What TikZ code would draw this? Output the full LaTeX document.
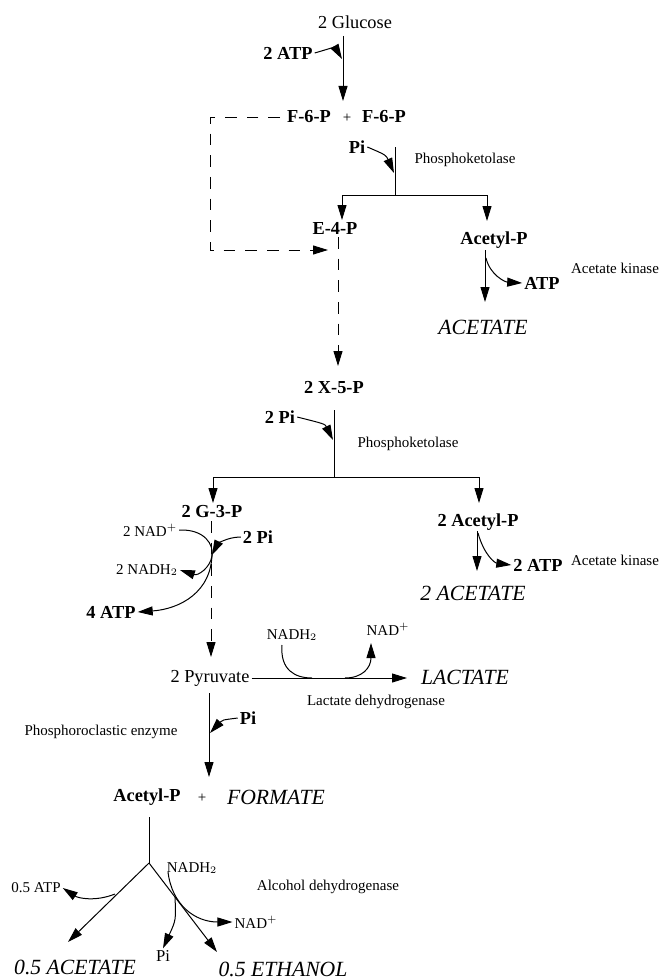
\documentclass[tikz,border=0pt]{standalone}
\usepackage{fontspec}
\setmainfont{Liberation Serif}
\usetikzlibrary{arrows.meta}
\begin{document}
\begin{tikzpicture}[x=0.6pt,y=-0.6pt,line width=0.6pt,
  >={Triangle[length=9pt,width=5.4pt]},
  every node/.style={inner sep=1pt},
  met/.style={font=\fontsize{11}{13}\selectfont\bfseries},
  metr/.style={font=\fontsize{11}{13}\selectfont},
  enz/.style={font=\fontsize{9}{11}\selectfont},
  cof/.style={font=\fontsize{9}{11}\selectfont},
  prod/.style={font=\fontsize{13}{15}\selectfont\itshape},
  dsh/.style={dash pattern=on 7pt off 6pt}]
\useasboundingbox (0,0) rectangle (662,979);

% ---------- top part ----------
\node[metr] (glc) at (355,22) {2 Glucose};
\node[met] (atp1) at (288,53) {2 ATP};
\node[met] (f6p1) at (309,117) {F-6-P};
\node[cof] (plus1) at (347,118) {+};
\node[met] (f6p2) at (384,117) {F-6-P};
\coordinate (g1) at (343,36);
\coordinate (g2) at (343,101);
\coordinate (g3) at (342,59);
\draw[->] (g1) -- (g2);
\draw[->] (atp1.east) .. controls (335,47) .. (g3);

% dashed recycling loop
\coordinate (d0) at (280,117);
\coordinate (d1) at (210,117);
\coordinate (d2) at (210,250);
\coordinate (d3) at (328,250);
\draw[dsh,->] (d0) -- (d1) -- (d2) -- (d3);

% phosphoketolase 1
\node[met] (pi1) at (357,147) {Pi};
\node[enz] (pk1) at (465,160) {Phosphoketolase};
\coordinate (k1) at (395,147);
\coordinate (b1) at (395,195);
\coordinate (k2) at (394,173);
\draw (k1) -- (b1);
\draw[->] (pi1.east) .. controls (386,155) .. (k2);
\coordinate (e4in) at (342,220);
\coordinate (ac1in) at (487,221);
\draw[->] (b1) -| (e4in);
\draw[->] (b1) -| (ac1in);

\node[met] (e4p) at (335,228) {E-4-P};
\node[met] (acp1) at (494,240) {Acetyl-P};
\coordinate (a1s) at (485,250);
\coordinate (a1e) at (485,302);
\coordinate (a1c) at (486,258);
\draw[->] (a1s) -- (a1e);
\node[met] (atp2) at (542,283) {ATP};
\node[enz] (ak1) at (615,268) {Acetate kinase};
\draw[->] (a1c) .. controls (490,275) and (505,282) .. (atp2.west);
\node[prod] (ace1) at (483,327) {ACETATE};

% E-4-P dashed to X-5-P
\coordinate (e1) at (338,237);
\coordinate (e2) at (338,366);
\draw[dsh,->] (e1) -- (e2);

% ---------- middle part ----------
\node[met] (x5p) at (334,388) {2 X-5-P};
\node[met] (pi2) at (280,417) {2 Pi};
\node[enz] (pk2) at (408,444) {Phosphoketolase};
\coordinate (k3) at (334,410);
\coordinate (b2) at (334,477);
\coordinate (k4) at (333,440);
\draw (k3) -- (b2);
\draw[->] (pi2.east) .. controls (325,424) .. (k4);
\coordinate (g3in) at (213,503);
\coordinate (ac2in) at (479,503);
\draw[->] (b2) -| (g3in);
\draw[->] (b2) -| (ac2in);

\node[met] (g3p) at (212,512) {2 G-3-P};
\node[met] (acp2) at (478,522) {2 Acetyl-P};
\coordinate (a2s) at (477,531);
\coordinate (a2e) at (477,571);
\coordinate (a2c) at (478,533);
\draw[->] (a2s) -- (a2e);
\node[met] (atp3) at (538,565) {2 ATP};
\node[enz] (ak2) at (615,560) {Acetate kinase};
\draw[->] (a2c) .. controls (484,555) and (495,563) .. (atp3.west);
\node[prod] (ace2) at (473,593) {2 ACETATE};

% G-3-P to pyruvate
\coordinate (p1) at (211,521);
\coordinate (p2) at (211,657);
\draw[dsh,->] (p1) -- (p2);
\node[cof] (nad1) at (150,530) {2 NAD$^+$};
\node[met] (pi3) at (258,537) {2 Pi};
\node[cof] (nadh1) at (147,570) {2 NADH$_2$};
\node[met] (atp4) at (111,612) {4 ATP};
\coordinate (gj) at (212,555);
\draw[->] (nad1.east) .. controls (205,529) and (214,545) .. (212,556)
   .. controls (210,568) and (198,576) .. (nadh1.east);
\draw[->] (pi3.west) .. controls (226,537) and (217,545) .. (gj);
\draw[->] (212,553) .. controls (212,592) and (180,609) .. (atp4.east);

% ---------- pyruvate ----------
\node[metr] (pyr) at (210,678) {2 Pyruvate};
\node[prod] (lac) at (465,677) {LACTATE};
\node[enz] (ldh) at (376,702) {Lactate dehydrogenase};
\node[cof] (nadh2) at (292,635) {NADH$_2$};
\node[cof] (nad2) at (388,629) {NAD$^+$};
\coordinate (l1) at (407,678);
\draw[->] (pyr.east) -- (l1);
\coordinate (l2) at (312,678);
\coordinate (l3) at (345,678);
\coordinate (l4) at (371,643);
\draw (282,645) .. controls (280,670) and (295,678) .. (l2);
\draw[->] (l3) .. controls (362,678) and (371,668) .. (l4);

\coordinate (q1) at (209,693);
\coordinate (q2) at (209,777);
\coordinate (q3) at (210,733);
\draw[->] (q1) -- (q2);
\node[met] (pi4) at (248,718) {Pi};
\draw[->] (pi4.west) .. controls (222,720) .. (q3);
\node[enz] (pce) at (101,732) {Phosphoroclastic enzyme};

% ---------- bottom ----------
\node[met] (acp3) at (147,797) {Acetyl-P};
\node[cof] (plus2) at (202,798) {+};
\node[prod] (form) at (276,797) {FORMATE};
\coordinate (s1) at (149,817);
\coordinate (s2) at (149,863);
\coordinate (s3) at (68,942);
\coordinate (s4) at (217,952);
\draw (s1) -- (s2);
\draw[->] (s2) -- (s3);
\draw[->] (s2) -- (s4);

\node[cof] (atp5) at (36,888) {0.5 ATP};
\draw[->] (115,894) .. controls (95,902) and (78,898) .. (atp5.east);
\node[cof] (nadh3) at (192,868) {NADH$_2$};
\node[cof] (nad3) at (256,922) {NAD$^+$};
\draw[->] (168,872) .. controls (172,905) and (195,922) .. (nad3.west);
\node[font=\fontsize{10}{12}\selectfont] (pi5) at (163,956) {Pi};
\draw[->] (175,897) .. controls (176,920) .. (pi5.north);
\node[enz] (adh) at (328,887) {Alcohol dehydrogenase};
\node[prod] (ace3) at (75,967) {0.5 ACETATE};
\node[prod] (eth) at (283,969) {0.5 ETHANOL};
\end{tikzpicture}
\end{document}
